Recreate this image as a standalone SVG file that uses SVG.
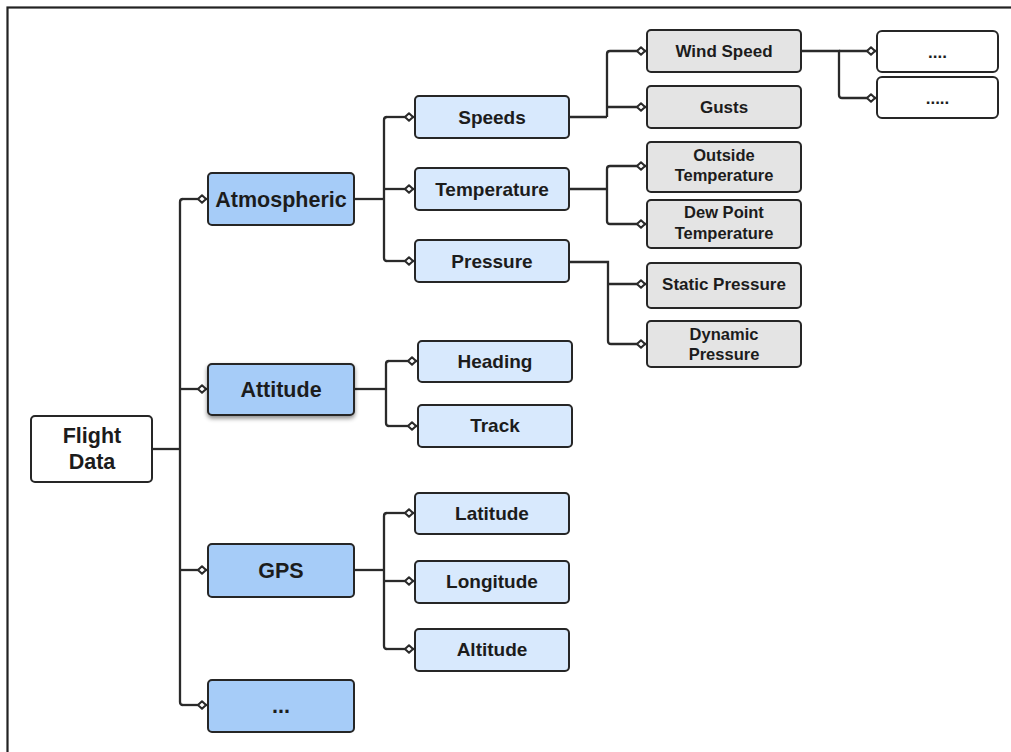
<svg xmlns="http://www.w3.org/2000/svg" width="1011" height="752" viewBox="0 0 1011 752">
<style>
.box{stroke:#262626;stroke-width:2}
.l1{fill:#a6ccf8}
.l2{fill:#d8e9fd}
.l3{fill:#e4e4e4}
.w{fill:#ffffff}
text{font-family:"Liberation Sans",Arial,sans-serif;font-weight:bold;fill:#1c1c1c;text-anchor:middle}
.t1{font-size:21.5px}
.t2{font-size:19px}
.t3{font-size:17px}
.t3s{font-size:16.5px}
.conn path{fill:none;stroke:#2a2a2a;stroke-width:2.3}
.conn path.br{marker-end:url(#dia)}
</style>
<defs>
<marker id="dia" viewBox="-7 -7 14 14" refX="5" refY="0" markerWidth="14" markerHeight="14" markerUnits="userSpaceOnUse" orient="auto">
<path d="M-4,0 L0,-3.8 L4,0 L0,3.8 Z" fill="#ffffff" stroke="#2a2a2a" stroke-width="2" stroke-linejoin="round"/>
</marker>
<filter id="sh" x="-10%" y="-20%" width="120%" height="150%">
<feDropShadow dx="0" dy="2.5" stdDeviation="2" flood-color="#000" flood-opacity="0.45"/>
</filter>
</defs>
<rect width="1011" height="752" fill="#ffffff"/>
<rect x="7.5" y="7.5" width="1012" height="760" fill="none" stroke="#222" stroke-width="2.2"/>

<g class="conn" id="connectors">
<path d="M152,449 H180"/>
<path d="M183,199 Q180,199 180,202 V702 Q180,705 183,705"/>
<path class="br" d="M183,199 H207"/>
<path class="br" d="M180,389 H207"/>
<path class="br" d="M180,570 H207"/>
<path class="br" d="M183,705 H207"/>

<path d="M354,199 H384"/>
<path d="M387,117 Q384,117 384,120 V258 Q384,261 387,261"/>
<path class="br" d="M387,117 H414"/>
<path class="br" d="M384,189 H414"/>
<path class="br" d="M387,261 H414"/>

<path d="M354,389 H386"/>
<path d="M389,361 Q386,361 386,364 V423 Q386,426 389,426"/>
<path class="br" d="M389,361 H417"/>
<path class="br" d="M389,426 H417"/>

<path d="M354,570 H384"/>
<path d="M387,513 Q384,513 384,516 V646 Q384,649 387,649"/>
<path class="br" d="M387,513 H414"/>
<path class="br" d="M384,581 H414"/>
<path class="br" d="M387,649 H414"/>

<path d="M569,117 H607"/>
<path d="M610,51 Q607,51 607,54 V117"/>
<path class="br" d="M610,51 H646"/>
<path class="br" d="M607,107 H646"/>

<path d="M569,189 H607"/>
<path d="M610,166 Q607,166 607,169 V221 Q607,224 610,224"/>
<path class="br" d="M610,166 H646"/>
<path class="br" d="M610,224 H646"/>

<path d="M569,262 H608 V341 Q608,344 611,344"/>
<path class="br" d="M608,284 H646"/>
<path class="br" d="M611,344 H646"/>

<path d="M801,51 H839 V95 Q839,98 842,98"/>
<path class="br" d="M839,51 H876"/>
<path class="br" d="M842,98 H876"/>
</g>

<g id="flight-data"><rect class="box w" x="31" y="416" width="121" height="66" rx="4"/><text class="t1" x="92" y="443">Flight</text><text class="t1" x="92" y="469">Data</text></g>

<g id="atmospheric"><rect class="box l1" x="208" y="173" width="146" height="52" rx="4"/><text class="t1" x="281" y="206.5">Atmospheric</text></g>
<g id="attitude"><rect class="box l1" x="208" y="364" width="146" height="51" rx="4" filter="url(#sh)"/><text class="t1" x="281" y="396.5">Attitude</text></g>
<g id="gps"><rect class="box l1" x="208" y="544" width="146" height="53" rx="4"/><text class="t1" x="281" y="578">GPS</text></g>
<g id="more"><rect class="box l1" x="208" y="680" width="146" height="52" rx="4"/><text class="t1" x="281" y="713">...</text></g>

<g id="speeds"><rect class="box l2" x="415" y="96" width="154" height="42" rx="4"/><text class="t2" x="492" y="123.5">Speeds</text></g>
<g id="temperature"><rect class="box l2" x="415" y="168" width="154" height="42" rx="4"/><text class="t2" x="492" y="195.5">Temperature</text></g>
<g id="pressure"><rect class="box l2" x="415" y="240" width="154" height="42" rx="4"/><text class="t2" x="492" y="267.5">Pressure</text></g>

<g id="heading"><rect class="box l2" x="418" y="341" width="154" height="41" rx="4"/><text class="t2" x="495" y="367.5">Heading</text></g>
<g id="track"><rect class="box l2" x="418" y="405" width="154" height="42" rx="4"/><text class="t2" x="495" y="432">Track</text></g>

<g id="latitude"><rect class="box l2" x="415" y="493" width="154" height="41" rx="4"/><text class="t2" x="492" y="520">Latitude</text></g>
<g id="longitude"><rect class="box l2" x="415" y="561" width="154" height="42" rx="4"/><text class="t2" x="492" y="588">Longitude</text></g>
<g id="altitude"><rect class="box l2" x="415" y="629" width="154" height="42" rx="4"/><text class="t2" x="492" y="656">Altitude</text></g>

<g id="wind-speed"><rect class="box l3" x="647" y="30" width="154" height="42" rx="4"/><text class="t3" x="724" y="57">Wind Speed</text></g>
<g id="gusts"><rect class="box l3" x="647" y="86" width="154" height="42" rx="4"/><text class="t3" x="724" y="113">Gusts</text></g>
<g id="outside-temperature"><rect class="box l3" x="647" y="142" width="154" height="50" rx="4"/><text class="t3s" x="724" y="161">Outside</text><text class="t3s" x="724" y="181">Temperature</text></g>
<g id="dew-point-temperature"><rect class="box l3" x="647" y="200" width="154" height="48" rx="4"/><text class="t3s" x="724" y="218">Dew Point</text><text class="t3s" x="724" y="239">Temperature</text></g>
<g id="static-pressure"><rect class="box l3" x="647" y="263" width="154" height="45" rx="4"/><text class="t3" x="724" y="290">Static Pressure</text></g>
<g id="dynamic-pressure"><rect class="box l3" x="647" y="321" width="154" height="46" rx="4"/><text class="t3s" x="724" y="340">Dynamic</text><text class="t3s" x="724" y="360">Pressure</text></g>

<g id="wind-more-1"><rect class="box w" x="877" y="31" width="121" height="41" rx="5"/><text class="t3" x="937.5" y="58">....</text></g>
<g id="wind-more-2"><rect class="box w" x="877" y="77" width="121" height="41" rx="5"/><text class="t3" x="937.5" y="104">.....</text></g>
</svg>
